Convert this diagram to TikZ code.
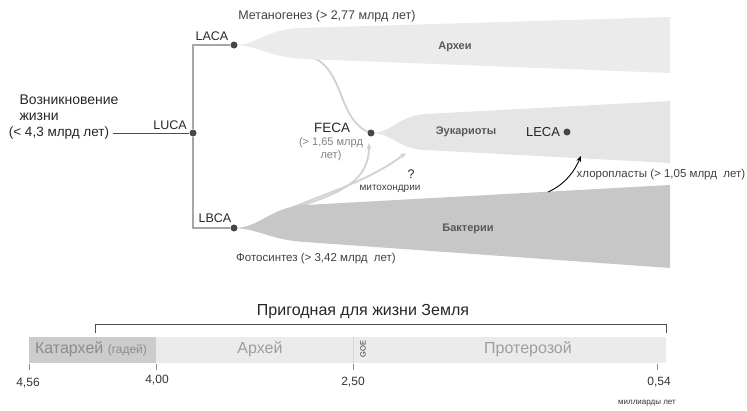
\documentclass[tikz,border=0pt]{standalone}
\usepackage{fontspec}
\setmainfont{Liberation Sans}
\usetikzlibrary{arrows.meta}

\begin{document}
\begin{tikzpicture}[x=1pt, y=-1pt,
    dot/.style={circle, fill=black!72, inner sep=0pt, minimum size=7pt},
    lbl/.style={font=\fontsize{12.5}{14}\selectfont, text=black!85},
    note/.style={font=\fontsize{11.5}{13}\selectfont, text=black!75},
    clade/.style={font=\bfseries\fontsize{11}{13}\selectfont, text=black!65},
    branch/.style={draw=black!35, line width=1.2pt},
    host/.style={draw=black!18, line width=1.8pt},
    era/.style={font=\fontsize{16}{18}\selectfont, text=black!38},
    yr/.style={font=\fontsize{12}{14}\selectfont, text=black!80}]
    \useasboundingbox (0,0) rectangle (747,410);

    % endosymbiosis curves (behind the wedges)
    \coordinate (archfoot) at (314,58);
    \coordinate (mitofoot) at (276,214);
    \coordinate (mitoend) at (406,153);
    \coordinate (fecafoot) at (369,143);
    \draw[host] (archfoot) .. controls (345,72) and (338,122) .. (371,133);
    \draw[host, -{Stealth[length=6pt,width=5pt]}] (mitofoot) .. controls (335,195) and (369,185) .. (fecafoot);
    \draw[host, -{Stealth[length=6pt,width=5pt]}] (mitofoot) .. controls (330,192) and (370,180) .. (mitoend);

    % Archaea
    \fill[black!8] (234,45) .. controls (258,45) and (266,29) .. (300,28) -- (670,17) -- (670,73) -- (305,59) .. controls (270,58) and (258,45) .. (234,45);
    \node[clade] (archaea) at (455,47) {Археи};

    % Eukaryotes
    \fill[black!10] (371,133) .. controls (392,133) and (398,116) .. (425,114) -- (670,101) -- (670,163) -- (425,150) .. controls (398,149) and (392,133) .. (371,133);
    \node[clade] (eukarya) at (466,132) {Эукариоты};

    % Bacteria
    \fill[black!22] (234,228) .. controls (260,228) and (270,207) .. (305,205) -- (670,185) -- (670,268) -- (305,242) .. controls (270,240) and (260,229) .. (234,228);
    \node[clade] (bacteria) at (468,229) {Бактерии};

    % origin of life
    \node[lbl, font=\fontsize{14}{16}\selectfont, align=left, anchor=west] (life) at (16,108) {Возникновение\\жизни};
    \node[lbl, font=\fontsize{13.5}{15}\selectfont] (lifedate) at (59,133) {(< 4,3 млрд лет)};

    % ancestors
    \node[dot] (luca) at (193,133) {};
    \node[dot] (laca) at (234,45) {};
    \node[dot] (lbca) at (234,228) {};
    \node[dot] (feca) at (371,133) {};
    \node[dot] (leca) at (567,132) {};
    \node[lbl] (lucalbl) at (170,125) {LUCA};
    \node[lbl] (lacalbl) at (212,36) {LACA};
    \node[lbl] (lbcalbl) at (215,218) {LBCA};
    \node[lbl, font=\fontsize{13.5}{15}\selectfont] (fecalbl) at (332,128) {FECA};
    \node[note, font=\fontsize{11}{13}\selectfont, text=black!50, align=center] (fecadate) at (331,149) {(> 1,65 млрд\\лет)};
    \node[lbl, font=\fontsize{13}{15}\selectfont] (lecalbl) at (543,132) {LECA};

    % tree
    \draw[draw=black!70, line width=1pt] (lifedate.east) -- (luca);
    \draw[branch] (laca) -| (luca) |- (lbca);

    % chloroplasts
    \coordinate (chlorofoot) at (548,192);
    \coordinate (chloroend) at (581,156);
    \draw[black, line width=0.9pt, -{Stealth[length=6pt,width=5pt]}] (chlorofoot) .. controls (566,184) and (575,170) .. (chloroend);

    % annotations
    \node[note, font=\fontsize{12.5}{14}\selectfont] (methano) at (327,16) {Метаногенез (> 2,77 млрд лет)};
    \node[note] (photo) at (316,259) {Фотосинтез (> 3,42 млрд\ \ лет)};
    \node[note] (chloro) at (661,175) {хлоропласты (> 1,05 млрд\ \ лет)};
    \node[lbl] (quest) at (411,174) {?};
    \node[note, font=\fontsize{10}{12}\selectfont] (mito) at (390,189) {митохондрии};

    % habitable Earth bracket
    \node[lbl, font=\fontsize{16}{18}\selectfont] (habit) at (363,312) {Пригодная для жизни Земля};
    \draw[black!70, line width=0.8pt] (95,333) -- (95,324) -- (666,324) -- (666,333);

    % eons
    \fill[black!20] (29,337) rectangle (156,363);
    \fill[black!8] (156,337) rectangle (353,363);
    \fill[black!8] (353,337) rectangle (666,363);
    \draw[black!16, line width=0.6pt] (353,337) -- (353,363);
    \node[era, text=black!45] (hadean) at (91,349) {Катархей\ {\fontsize{12}{14}\selectfont(гадей)}};
    \node[era] (archean) at (260,349) {Архей};
    \node[era] (proter) at (528,349) {Протерозой};
    \node[font=\fontsize{7.5}{8}\selectfont, rotate=90, text=black!80] (goe) at (363,349) {GOE};

    % time axis
    \foreach \x in {29,156,353,657}
        \draw[black!45, line width=0.6pt] (\x,364) -- (\x,370);
    \node[yr] (t456) at (28,383) {4,56};
    \node[yr] (t400) at (157,380) {4,00};
    \node[yr] (t250) at (353,382) {2,50};
    \node[yr] (t054) at (659,382) {0,54};
    \node[yr, font=\fontsize{8}{10}\selectfont] (units) at (647,403) {миллиарды лет};
\end{tikzpicture}
\end{document}
